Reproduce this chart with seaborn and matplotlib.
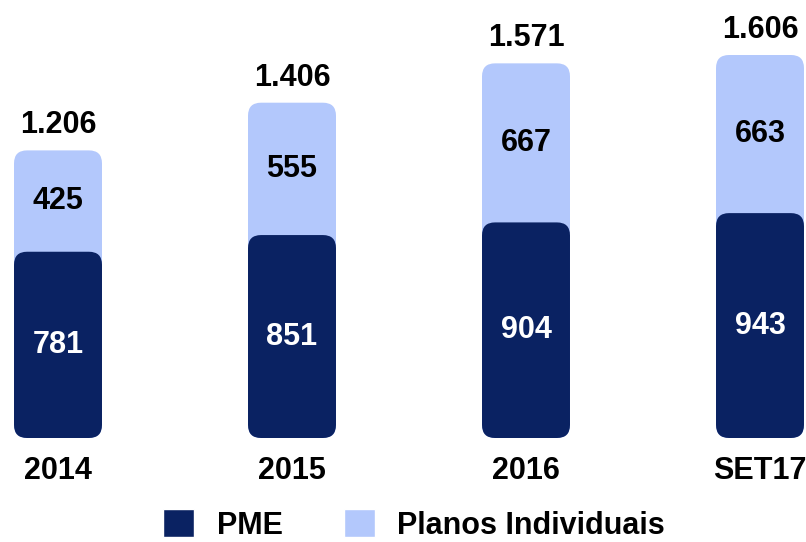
import numpy as np
import pandas as pd
import seaborn as sns
import matplotlib.pyplot as plt
from matplotlib.patches import FancyBboxPatch, Patch

sns.set_theme(style="white")
plt.rcParams['font.family'] = ['Liberation Sans', 'DejaVu Sans']
plt.rcParams['text.color'] = 'black'
plt.rcParams['xtick.color'] = 'black'

# data
periods = ["2014", "2015", "2016", "SET17"]
pme = [781, 851, 904, 943]
individuais = [425, 555, 667, 663]
totals = [a + b for a, b in zip(pme, individuais)]

dark = "#0a2262"
light = "#b3c8fc"

df = pd.DataFrame({"period": periods, "pme": pme, "ind": individuais, "total": totals})

W, H = 806, 542
fig = plt.figure(figsize=(W / 100, H / 100), dpi=100)
base_px = 438
ax = fig.add_axes([0, (H - base_px) / H, 1, base_px / H])

px_per_unit = 383 / 1606
sns.barplot(data=df, x="period", y="total", color=light, width=0.376, ax=ax, saturation=1)
sns.barplot(data=df, x="period", y="pme", color=dark, width=0.376, ax=ax, saturation=1)

ax.set_xlim(-58 / 234, 3 + 46 / 234)
ax.set_ylim(0, base_px / px_per_unit)

# rounded bars
r = 13 / 234
aspect = (1 / px_per_unit) / (1 / 234)
for p in list(ax.patches):
    fb = FancyBboxPatch((p.get_x(), p.get_y()), p.get_width(), p.get_height(),
                        boxstyle=f"round,pad=0,rounding_size={r}",
                        mutation_aspect=aspect, facecolor=p.get_facecolor(),
                        edgecolor="none", clip_on=False, zorder=p.get_zorder())
    p.remove()
    ax.add_patch(fb)

fs = 22
fmt = lambda v: f"{v:,}".replace(",", ".")
for i, row in df.iterrows():
    ax.text(i, row.pme / 2, fmt(row.pme), ha="center", va="center", color="white",
            fontsize=fs, fontweight="bold")
    ax.text(i, row.pme + row.ind / 2, fmt(row.ind), ha="center", va="center", color="black",
            fontsize=fs, fontweight="bold")
    ax.text(i, row.total + 10 / px_per_unit, fmt(row.total), ha="center", va="bottom",
            color="black", fontsize=fs, fontweight="bold")

ax.set_xlabel("")
ax.set_ylabel("")
ax.set_yticks([])
ax.tick_params(axis="x", length=0, pad=13, labelsize=fs, labelcolor="black")
for t in ax.get_xticklabels():
    t.set_fontweight("bold")
sns.despine(ax=ax, left=True, bottom=True)

handles = [Patch(facecolor=dark, label="PME"), Patch(facecolor=light, label="Planos Individuais")]
fig.legend(handles=handles, loc="center", bbox_to_anchor=(0.514, 1 - 525 / H), ncol=2,
           frameon=False, prop={"size": fs, "weight": "bold"}, handlelength=1.0,
           handleheight=1.0, columnspacing=2.0, handletextpad=0.75, labelcolor="black")

fig.savefig("out.png", dpi=100)
